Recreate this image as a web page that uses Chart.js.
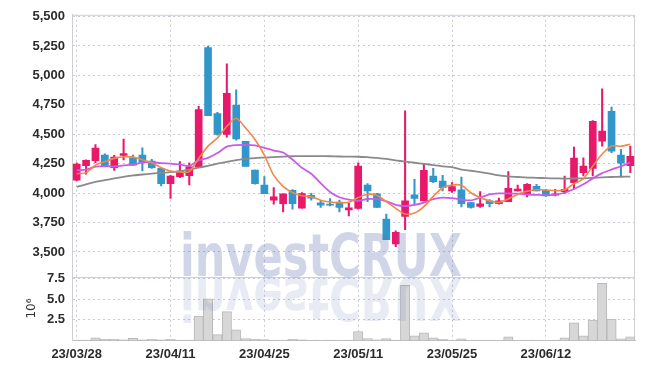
<!DOCTYPE html>
<html lang="ko">
<head>
    <meta charset="UTF-8">
    <title>investCRUX price chart</title>
    <script src="https://cdn.jsdelivr.net/npm/chart.js"></script>
    <style>
        html, body { margin: 0; padding: 0; background: #fff; }
        #wrap { width: 645px; height: 370px; }
    </style>
</head>
<body>
<div id="wrap"><canvas id="chart" width="645" height="370"></canvas></div>
<script>
const dates = ['23/03/28','23/03/29','23/03/30','23/03/31','23/04/03','23/04/04','23/04/05','23/04/06','23/04/07','23/04/10',
    '23/04/11','23/04/12','23/04/13','23/04/14','23/04/17','23/04/18','23/04/19','23/04/20','23/04/21','23/04/24',
    '23/04/25','23/04/26','23/04/27','23/04/28','23/05/02','23/05/03','23/05/04','23/05/08','23/05/09','23/05/10',
    '23/05/11','23/05/12','23/05/15','23/05/16','23/05/17','23/05/18','23/05/19','23/05/22','23/05/23','23/05/24',
    '23/05/25','23/05/26','23/05/30','23/05/31','23/06/01','23/06/02','23/06/05','23/06/07','23/06/08','23/06/09',
    '23/06/12','23/06/13','23/06/14','23/06/15','23/06/16','23/06/19','23/06/20','23/06/21','23/06/22','23/06/23'];

const openP  = [4109,4233,4275,4323,4216,4320,4300,4323,4272,4210, 4081,4140,4148,4221,5236,4675,4498,4746,4441,4196,
                4069,3940,3911,4024,3872,3982,3917,3906,3923,3858, 3869,4069,3993,3779,3568,3802,3985,3934,4145,4103,
                4019,4027,3920,3886,3934,3911,3928,4019,3996,4058, 4024,3982,4013,4089,4174,4210,4441,4695,4323,4233];
const highP  = [4258,4283,4413,4334,4320,4458,4323,4385,4286,4216, 4151,4267,4258,4737,5250,4686,5098,4878,4441,4196,
                4140,4047,3993,4030,4005,3999,3934,3954,3940,3914, 4258,4081,3999,3821,3680,4700,4117,4250,4210,4151,
                4089,4137,3920,4013,3945,3957,4182,4069,4081,4075, 4033,4033,4145,4391,4300,4616,4886,4731,4371,4399];
const lowP   = [4103,4160,4258,4222,4193,4283,4235,4188,4210,4061, 3955,4131,4069,4216,4658,4492,4475,4450,4227,4075,
                3996,3906,3840,3864,3872,3940,3878,3892,3841,3807, 3864,3928,3878,3604,3545,3689,3911,3934,4089,4019,
                4005,3883,3872,3878,3883,3906,3928,4016,3968,4019, 3972,3976,3996,4033,4145,4145,4399,4343,4137,4174];
const closeP = [4244,4278,4382,4227,4306,4335,4238,4258,4216,4081, 4145,4188,4224,4709,4658,4498,4847,4461,4227,4081,
                3996,3968,3993,3911,3996,3957,3897,3897,3878,3875, 4230,4019,3878,3604,3666,3934,3954,4193,4097,4047,
                4055,3911,3878,3909,3911,3934,4041,4035,4075,4019, 3976,3993,4033,4298,4230,4610,4526,4357,4255,4312];

// volume, millions of shares
const volume = [0.04,0.05,0.32,0.13,0.13,0.08,0.25,0.08,0.13,0.08, 0.12,0.04,0.05,2.98,5.07,0.70,3.50,1.29,0.22,0.12,
                0.10,0.03,0.03,0.12,0.08,0.04,0.03,0.04,0.03,0.04, 1.08,0.22,0.08,0.22,0.04,6.72,0.55,0.93,0.32,0.12,
                0.03,0.20,0.03,0.03,0.03,0.02,0.44,0.03,0.03,0.03, 0.01,0.04,0.32,2.13,0.56,2.49,6.97,2.60,0.20,0.44];

const ma5  = [4165,4174,4238,4267,4295,4309,4306,4284,4258,4216, 4188,4179,4182,4295,4399,4469,4568,4636,4553,4455,
              4322,4150,4058,4005,3978,3968,3940,3925,3918,3922, 3962,3990,3980,3928,3870,3822,3830,3885,3972,4046,
              4069,4066,4003,3962,3934,3920,3950,3990,4015,4028, 4027,4020,4028,4080,4122,4230,4332,4400,4398,4415];
const ma10 = [4193,4199,4225,4230,4226,4236,4242,4262,4262,4255, 4250,4244,4232,4278,4300,4340,4395,4408,4410,4405,
              4385,4362,4345,4285,4215,4165,4085,4010,3965,3945, 3935,3950,3948,3930,3900,3890,3900,3920,3948,3962,
              3957,3945,3938,3962,3990,3998,3998,3995,3988,3985, 3983,3988,4003,4035,4075,4125,4170,4200,4228,4260];
const ma60 = [4052,4075,4095,4110,4125,4138,4150,4158,4166,4172, 4178,4186,4200,4216,4232,4250,4265,4280,4290,4298,
              4302,4306,4310,4313,4314,4314,4314,4313,4311,4310, 4309,4305,4300,4290,4278,4268,4258,4248,4238,4228,
              4220,4200,4190,4178,4165,4150,4142,4137,4132,4130, 4127,4125,4123,4124,4126,4129,4133,4137,4139,4140];

const priceTicks = [3500, 3750, 4000, 4250, 4500, 4750, 5000, 5250, 5500];
const volumeTicks = [2.5, 5.0, 7.5];

const upColor = '#e8196b';
const downColor = '#3196c9';
const candleColors = closeP.map((c, i) => c >= openP[i] ? upColor : downColor);
const bodies = openP.map((o, i) => [o, closeP[i]]);
const wicks = lowP.map((l, i) => [l, highP[i]]);

const tickFont = { family: '"Liberation Sans", Arial, sans-serif', size: 13, weight: 'bold' };
const tickColor = '#2b2b2b';
const gridColor = '#c8cad9';

// borders, panel separator and the watermark with its reflection
const framePlugin = {
    id: 'frame',
    beforeDatasetsDraw(chart) {
        const { ctx, chartArea: a, scales } = chart;
        ctx.save();
        ctx.strokeStyle = '#d0d0d0';
        ctx.lineWidth = 1;
        ctx.beginPath();
        ctx.moveTo(a.left, a.top + 0.5);
        ctx.lineTo(a.right, a.top + 0.5);
        ctx.moveTo(a.right - 0.5, a.top);
        ctx.lineTo(a.right - 0.5, a.bottom);
        const sep = Math.round(scales.yv.top) + 0.5;
        ctx.moveTo(a.left, sep);
        ctx.lineTo(a.right, sep);
        ctx.stroke();
        ctx.restore();
    },
    afterDatasetsDraw(chart) {
        const ctx = chart.ctx;
        const mark = 'investCRUX';
        ctx.save();
        ctx.font = 'bold 58px "DejaVu Sans Condensed", "DejaVu Sans", sans-serif';
        const w = ctx.measureText(mark).width;
        ctx.translate(321, 276);
        ctx.scale(282 / w, 1);
        ctx.textAlign = 'center';
        ctx.textBaseline = 'alphabetic';
        ctx.fillStyle = 'rgba(98,118,178,0.30)';
        ctx.fillText(mark, 0, 0);
        ctx.scale(1, -1);
        ctx.fillStyle = 'rgba(98,118,178,0.15)';
        ctx.fillText(mark, 0, -2);
        ctx.restore();
    }
};

const fixedTicks = list => scale => { scale.ticks = list.map(v => ({ value: v })); };

new Chart(document.getElementById('chart'), {
    type: 'bar',
    data: {
        labels: dates,
        datasets: [
            { type: 'line', label: 'MA5', data: ma5, borderColor: '#f08848', borderWidth: 1.6,
              pointRadius: 0, tension: 0.25, yAxisID: 'y', order: 0 },
            { type: 'line', label: 'MA10', data: ma10, borderColor: '#c85ce8', borderWidth: 1.8,
              pointRadius: 0, tension: 0.25, yAxisID: 'y', order: 0 },
            { type: 'line', label: 'MA60', data: ma60, borderColor: '#8a8a8a', borderWidth: 1.8,
              pointRadius: 0, tension: 0.25, yAxisID: 'y', order: 0 },
            { label: 'body', data: bodies, backgroundColor: candleColors, barThickness: 7,
              grouped: false, yAxisID: 'y', order: 1 },
            { label: 'wick', data: wicks, backgroundColor: candleColors, barThickness: 1.4,
              grouped: false, yAxisID: 'y', order: 2 },
            { label: 'volume', data: volume, backgroundColor: '#d7d7d7', borderColor: '#b8b8b8',
              borderWidth: 1, barPercentage: 1, categoryPercentage: 1, grouped: false,
              yAxisID: 'yv', order: 3 }
        ]
    },
    options: {
        responsive: false,
        animation: false,
        events: [],
        layout: { padding: { top: 13, right: 10, bottom: 2, left: 0 } },
        plugins: { legend: { display: false }, tooltip: { enabled: false } },
        scales: {
            x: {
                offset: true,
                grid: {
                    offset: false,
                    drawTicks: false,
                    color: c => c.index % 10 === 0 ? gridColor : 'rgba(0,0,0,0)'
                },
                border: { display: true, color: '#b9b9b9', dash: [2, 3] },
                ticks: {
                    autoSkip: false, maxRotation: 0, padding: 6, color: tickColor, font: tickFont,
                    callback: (v, i) => i % 10 === 0 ? dates[i] : ''
                }
            },
            y: {
                position: 'left', stack: 'panels', stackWeight: 263, weight: 2,
                min: 3290, max: 5515,
                afterFit: s => { s.width = 72; },
                afterBuildTicks: fixedTicks(priceTicks),
                grid: { color: gridColor, drawTicks: false },
                border: { display: true, color: '#cfcfcf', dash: [2, 3] },
                ticks: {
                    autoSkip: false, padding: 7, color: tickColor, font: tickFont,
                    callback: v => v.toLocaleString('en-US')
                }
            },
            yv: {
                position: 'left', stack: 'panels', stackWeight: 64, weight: 1,
                min: 0, max: 7.77,
                afterFit: s => { s.width = 72; },
                afterBuildTicks: fixedTicks(volumeTicks),
                grid: { color: gridColor, drawTicks: false },
                border: { display: true, color: '#cfcfcf', dash: [2, 3] },
                title: {
                    display: true, text: '10\u2076', color: '#333',
                    font: { family: '"DejaVu Sans", sans-serif', size: 12 },
                    padding: { top: 25, bottom: 0 }
                },
                ticks: {
                    autoSkip: false, padding: 7, color: tickColor, font: tickFont,
                    callback: v => v.toFixed(1)
                }
            }
        }
    },
    plugins: [framePlugin]
});
</script>
</body>
</html>
